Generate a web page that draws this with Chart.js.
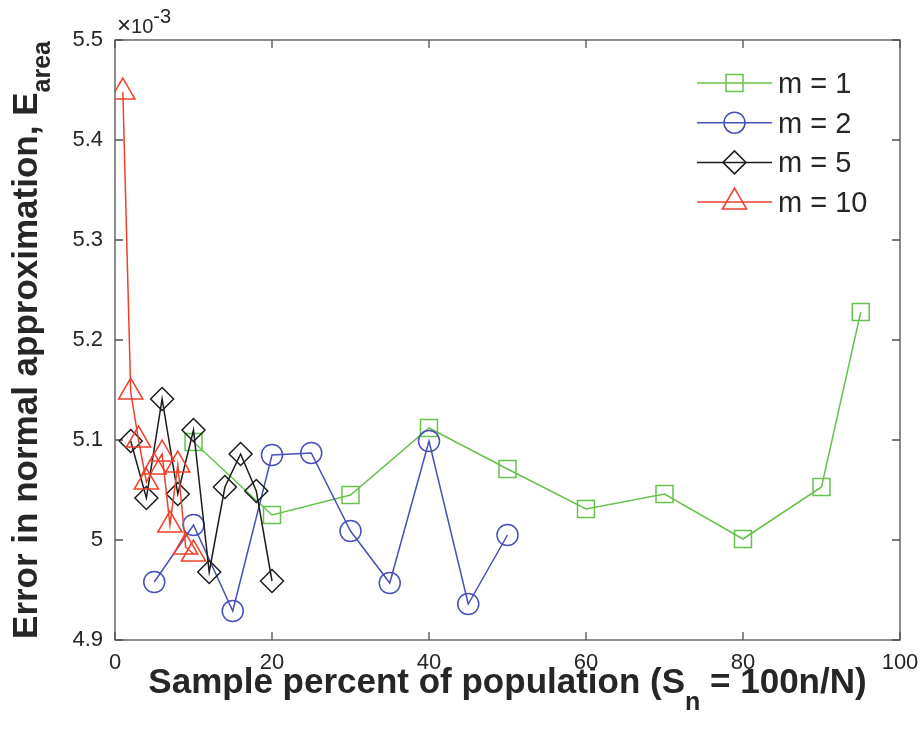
<!DOCTYPE html>
<html>
<head>
<meta charset="utf-8">
<script src="https://cdn.jsdelivr.net/npm/chart.js@4"></script>
<style>
  html, body { margin: 0; padding: 0; background: #fff; }
</style>
</head>
<body>
<canvas id="errChart" width="924" height="737"></canvas>
<script>
// sample percent S_n for each m, and error E_area (x 10^-3)
const xM1 = [10, 20, 30, 40, 50, 60, 70, 80, 90, 95];
const yM1 = [5.098, 5.025, 5.045, 5.112, 5.071, 5.031, 5.046, 5.001, 5.053, 5.228];

const xM2 = [5, 10, 15, 20, 25, 30, 35, 40, 45, 50];
const yM2 = [4.958, 5.015, 4.929, 5.085, 5.087, 5.009, 4.957, 5.099, 4.936, 5.005];

const xM5 = [2, 4, 6, 8, 10, 12, 14, 16, 18, 20];
const yM5 = [5.099, 5.042, 5.141, 5.046, 5.110, 4.968, 5.053, 5.086, 5.049, 4.959];

const xM10 = [1, 2, 3, 4, 5, 6, 7, 8, 9, 10];
const yM10 = [5.448, 5.148, 5.100, 5.058, 5.073, 5.086, 5.015, 5.075, 4.993, 4.986];

const seriesLabels = ['m = 1', 'm = 2', 'm = 5', 'm = 10'];
const xTicks = [0, 20, 40, 60, 80, 100];
const yTicks = [4.9, 5.0, 5.1, 5.2, 5.3, 5.4, 5.5];

const FONT = '"Liberation Sans", Arial, Helvetica, sans-serif';
const AXIS_COLOR = '#505050';
const TEXT_COLOR = '#262626';

function pts(xs, ys) {
  return xs.map((x, i) => ({ x: x, y: ys[i] }));
}

function series(label, xs, ys, color, style, radius, order) {
  return {
    label: label,
    data: pts(xs, ys),
    borderColor: color,
    borderWidth: 1.5,
    pointStyle: style,
    pointRadius: radius,
    pointHoverRadius: radius,
    pointBorderColor: color,
    pointBackgroundColor: 'rgba(0,0,0,0)',
    pointBorderWidth: 1.5,
    fill: false,
    tension: 0,
    order: order
  };
}

// box round the plot with inward ticks on all four sides
const boxPlugin = {
  id: 'box',
  beforeDatasetsDraw(chart) {
    const { ctx, chartArea: a, scales } = chart;
    ctx.save();
    ctx.strokeStyle = AXIS_COLOR;
    ctx.lineWidth = 1.3;
    ctx.strokeRect(a.left, a.top, a.right - a.left, a.bottom - a.top);
    const tl = 8;
    ctx.beginPath();
    xTicks.forEach(v => {
      const px = scales.x.getPixelForValue(v);
      ctx.moveTo(px, a.bottom); ctx.lineTo(px, a.bottom - tl);
      ctx.moveTo(px, a.top); ctx.lineTo(px, a.top + tl);
    });
    yTicks.forEach(v => {
      const py = scales.y.getPixelForValue(v);
      ctx.moveTo(a.left, py); ctx.lineTo(a.left + tl, py);
      ctx.moveTo(a.right, py); ctx.lineTo(a.right - tl, py);
    });
    ctx.stroke();
    ctx.restore();
  }
};

// draws text runs, some of them as subscripts / superscripts
function drawRuns(ctx, runs, x, y, align) {
  let total = 0;
  runs.forEach(r => { ctx.font = r.font; total += ctx.measureText(r.text).width; });
  let cx = align === 'center' ? x - total / 2 : x;
  runs.forEach(r => {
    ctx.font = r.font;
    ctx.fillText(r.text, cx, y + (r.dy || 0));
    cx += ctx.measureText(r.text).width;
  });
}

const labelPlugin = {
  id: 'labels',
  afterDraw(chart) {
    const { ctx, chartArea: a } = chart;
    ctx.save();
    ctx.fillStyle = TEXT_COLOR;
    ctx.textAlign = 'left';
    ctx.textBaseline = 'alphabetic';

    const bold = 'bold 35px ' + FONT;
    const boldSub = 'bold 25px ' + FONT;

    // x axis title
    drawRuns(ctx, [
      { text: 'Sample percent of population (S', font: bold },
      { text: 'n', font: boldSub, dy: 17 },
      { text: ' = 100n/N)', font: bold }
    ], (a.left + a.right) / 2, 693, 'center');

    // y axis title
    ctx.save();
    ctx.translate(37, (a.top + a.bottom) / 2);
    ctx.rotate(-Math.PI / 2);
    drawRuns(ctx, [
      { text: 'Error in normal approximation, E', font: bold },
      { text: 'area', font: boldSub, dy: 13 }
    ], 0, 0, 'center');
    ctx.restore();

    // exponent of the y axis
    drawRuns(ctx, [
      { text: '\u00d7', font: '24px ' + FONT },
      { text: '10', font: '20px ' + FONT },
      { text: '-3', font: '20px ' + FONT, dy: -10 }
    ], a.left + 2, 33, 'left');

    // legend: line with marker, then label
    const lx0 = 697, lx1 = 772, mx = 734.5, tx = 778;
    chart.data.datasets.forEach((ds, i) => {
      const ly = 83 + i * 39.7;
      ctx.strokeStyle = ds.borderColor;
      ctx.lineWidth = ds.borderWidth;
      ctx.beginPath();
      ctx.moveTo(lx0, ly); ctx.lineTo(lx1, ly);
      ctx.stroke();
      ctx.fillStyle = 'rgba(0,0,0,0)';
      Chart.helpers.drawPoint(ctx, {
        pointStyle: ds.pointStyle,
        radius: ds.pointRadius,
        rotation: 0,
        borderWidth: ds.pointBorderWidth
      }, mx, ly);
      ctx.fillStyle = TEXT_COLOR;
      ctx.font = '29px ' + FONT;
      ctx.textBaseline = 'middle';
      ctx.fillText(ds.label, tx, ly + 2);
      ctx.textBaseline = 'alphabetic';
    });
    ctx.restore();
  }
};

new Chart(document.getElementById('errChart'), {
  type: 'line',
  data: {
    datasets: [
      series(seriesLabels[0], xM1, yM1, '#66c24c', 'rect', 12, 4),
      series(seriesLabels[1], xM2, yM2, '#4650b8', 'circle', 10.5, 3),
      series(seriesLabels[2], xM5, yM5, '#1c1c1c', 'rectRot', 11.5, 2),
      series(seriesLabels[3], xM10, yM10, '#f0402a', 'triangle', 14, 1)
    ]
  },
  options: {
    responsive: false,
    animation: false,
    layout: { padding: { top: 40, right: 24, left: 0, bottom: 0 } },
    plugins: {
      legend: { display: false },
      tooltip: { enabled: false }
    },
    scales: {
      x: {
        type: 'linear',
        min: 0,
        max: 100,
        afterBuildTicks(s) { s.ticks = xTicks.map(v => ({ value: v })); },
        ticks: { padding: 10, color: TEXT_COLOR, font: { family: FONT, size: 22 } },
        grid: { display: false, drawTicks: false },
        border: { display: false },
        afterFit(s) { s.height = 97; s.paddingLeft = 0; s.paddingRight = 0; }
      },
      y: {
        type: 'linear',
        min: 4.9,
        max: 5.5,
        afterBuildTicks(s) { s.ticks = yTicks.map(v => ({ value: v })); },
        ticks: {
          padding: 12,
          color: TEXT_COLOR,
          font: { family: FONT, size: 22 },
          callback: v => String(+v.toFixed(1))
        },
        grid: { display: false, drawTicks: false },
        border: { display: false },
        afterFit(s) { s.width = 115; }
      }
    }
  },
  plugins: [boxPlugin, labelPlugin]
});
</script>
</body>
</html>
